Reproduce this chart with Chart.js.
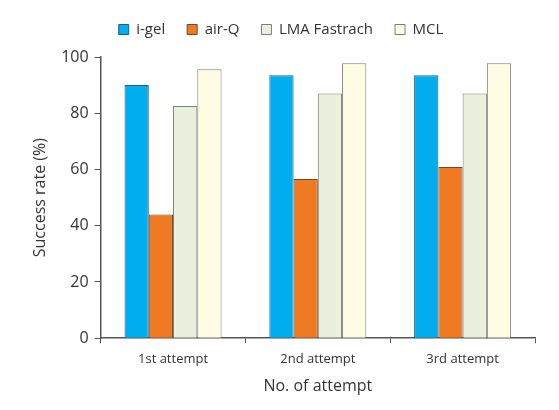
<!DOCTYPE html>
<html>
<head>
<meta charset="utf-8">
<script src="https://cdn.jsdelivr.net/npm/chart.js@4"></script>
<style>
  html, body { margin: 0; padding: 0; background: #fff; }
  #wrap { width: 559px; height: 410px; }
</style>
</head>
<body>
<div id="wrap"><canvas id="chart" width="559" height="410"></canvas></div>
<script>
const attempts = ['1st attempt', '2nd attempt', '3rd attempt'];
const igel = [90.0, 93.5, 93.5];
const airQ = [44.0, 56.6, 60.9];
const lmaFastrach = [82.6, 87.0, 87.0];
const mcl = [95.6, 97.8, 97.8];
const yTicks = [0, 20, 40, 60, 80, 100];

const fontFamily = '"Open Sans", sans-serif';
const axisColor = '#555';

// extra space between legend and plot
const legendGap = {
    id: 'legendGap',
    beforeInit(chart) {
        const fit = chart.legend.fit;
        chart.legend.fit = function () {
            fit.call(this);
            this.height += 10;
        };
    }
};

new Chart(document.getElementById('chart'), {
    type: 'bar',
    data: {
        labels: attempts,
        datasets: [
            { label: 'i-gel', data: igel, backgroundColor: '#00AEEF', borderColor: '#1c5f86' },
            { label: 'air-Q', data: airQ, backgroundColor: '#F07A22', borderColor: '#6b4a33' },
            { label: 'LMA Fastrach', data: lmaFastrach, backgroundColor: '#E9F1DE', borderColor: '#7d7d78' },
            { label: 'MCL', data: mcl, backgroundColor: '#FEFCE3', borderColor: '#7d7d78' }
        ].map(d => Object.assign(d, { borderWidth: 1, barPercentage: 1, categoryPercentage: 0.67 }))
    },
    plugins: [legendGap],
    options: {
        responsive: false,
        animation: false,
        layout: { padding: { left: 27, right: 24, top: 0, bottom: 10 } },
        plugins: {
            tooltip: { enabled: false },
            legend: {
                position: 'top',
                labels: {
                    boxWidth: 10,
                    boxHeight: 10,
                    padding: 22,
                    color: '#333',
                    font: { family: fontFamily, size: 15 }
                }
            }
        },
        scales: {
            x: {
                offset: true,
                grid: { display: true, drawOnChartArea: false, drawTicks: true, tickLength: 5, color: axisColor, offset: true },
                border: { display: true, color: axisColor, width: 1.5 },
                ticks: { color: '#333', font: { family: fontFamily, size: 13 }, padding: 8 },
                title: { display: true, text: 'No. of attempt', color: '#333', font: { family: fontFamily, size: 16 }, padding: { top: 2 } }
            },
            y: {
                min: 0,
                max: 100,
                afterBuildTicks: axis => { axis.ticks = yTicks.map(v => ({ value: v })); },
                grid: { display: true, drawOnChartArea: false, drawTicks: true, tickLength: 6, color: axisColor },
                border: { display: true, color: axisColor, width: 1.5 },
                ticks: { color: '#333', font: { family: fontFamily, size: 16 }, padding: 6 },
                title: { display: true, text: 'Success rate (%)', color: '#333', font: { family: fontFamily, size: 16 }, padding: { bottom: 5 } }
            }
        }
    }
});
</script>
</body>
</html>
